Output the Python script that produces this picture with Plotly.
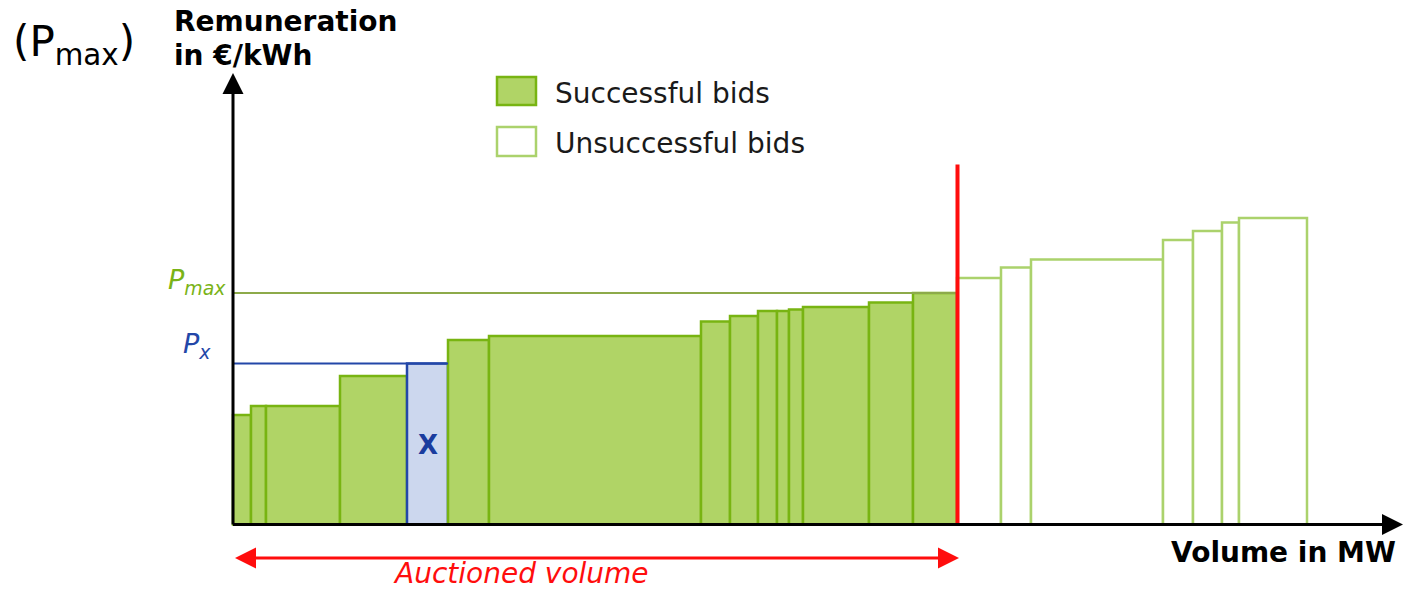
import numpy as np
import plotly.graph_objects as go

# ---------------- data ----------------
succ_volumes = [1.8, 1.5, 7.4, 6.7, 4.1, 4.1, 21.2, 2.9, 2.8, 1.9, 1.2, 1.4, 6.6, 4.4, 4.4]
succ_prices = [10.95, 11.85, 11.85, 14.85, 16.1, 18.45, 18.85, 20.3, 20.85, 21.35, 21.35, 21.5, 21.75, 22.2, 23.15]
unsucc_volumes = [4.4, 3.0, 13.2, 3.0, 2.9, 1.7, 6.8]
unsucc_prices = [24.65, 25.7, 26.5, 28.45, 29.35, 30.2, 30.65]
x_bid_index = 4          # the highlighted bid "X"
cutoff_top = 36.0        # height of the red cut-off line
legend_labels = ["Successful bids", "Unsuccessful bids"]

# ---------------- derived ----------------
sv = np.array(succ_volumes)
s_right = np.cumsum(sv)
s_centers = s_right - sv / 2
auctioned = float(s_right[-1])
uv = np.array(unsucc_volumes)
u_right = auctioned + np.cumsum(uv)
u_centers = u_right - uv / 2
p_max = succ_prices[-1]
p_x = succ_prices[x_bid_index]
x_right = float(s_right[x_bid_index])

FONT = "DejaVu Sans"
FILL = "#B0D466"
EDGE = "#78B412"
UEDGE = "#ABD26C"
BLUE_FILL = "#CCD7EE"
BLUE = "#2347A8"
RED = "#FF0D0D"

fill_colors = [FILL] * len(sv)
edge_colors = [EDGE] * len(sv)
fill_colors[x_bid_index] = BLUE_FILL
edge_colors[x_bid_index] = BLUE

fig = go.Figure()
fig.add_trace(go.Bar(x=s_centers, y=succ_prices, width=sv,
                     marker=dict(color=fill_colors, line=dict(color=edge_colors, width=2.5)),
                     showlegend=False, hoverinfo="skip"))
fig.add_trace(go.Bar(x=u_centers, y=unsucc_prices, width=uv,
                     marker=dict(color="white", line=dict(color=UEDGE, width=2.5)),
                     showlegend=False, hoverinfo="skip"))

shapes = [
    # Pmax line
    dict(type="line", x0=0, x1=auctioned, y0=p_max, y1=p_max, line=dict(color="#8DAA4A", width=2)),
    # Px line
    dict(type="line", x0=0, x1=x_right, y0=p_x, y1=p_x, line=dict(color=BLUE, width=2)),
    # cut-off line
    dict(type="line", x0=auctioned + 0.05, x1=auctioned + 0.05, y0=0, y1=cutoff_top, line=dict(color=RED, width=4)),
    # legend swatches
    dict(type="rect", x0=26.4, x1=30.3, y0=41.95, y1=44.75, fillcolor=FILL, line=dict(color=EDGE, width=2.5)),
    dict(type="rect", x0=26.4, x1=30.3, y0=36.85, y1=39.75, fillcolor="white", line=dict(color=UEDGE, width=2.5)),
]

ann = []
# axes arrows
ann.append(dict(x=117.0, y=0, ax=-0.15, ay=0, xref="x", yref="y", axref="x", ayref="y",
                showarrow=True, arrowhead=2, arrowsize=1.4, arrowwidth=3, arrowcolor="black", text=""))
ann.append(dict(x=0, y=45.15, ax=0, ay=-0.15, xref="x", yref="y", axref="x", ayref="y",
                showarrow=True, arrowhead=2, arrowsize=1.4, arrowwidth=3, arrowcolor="black", text=""))
# auctioned volume arrow
ann.append(dict(x=auctioned + 0.2, y=-3.35, ax=0.05, ay=-3.35, xref="x", yref="y", axref="x", ayref="y",
                showarrow=True, arrowhead=2, startarrowhead=2, arrowside="end+start",
                arrowsize=1.4, startarrowsize=1.4, arrowwidth=3, arrowcolor=RED, text=""))
ann.append(dict(x=28.75, y=-4.85, text="<i>Auctioned volume</i>", showarrow=False, borderpad=0,
                font=dict(family=FONT, size=28, color=RED), xanchor="center", yanchor="middle"))
ann.append(dict(x=116.5, y=-2.75, text="<b>Volume in MW</b>", showarrow=False,
                font=dict(family=FONT, size=28, color="black"), xanchor="right", yanchor="middle"))
ann.append(dict(x=-6.1, y=50.35, text="<b>Remuneration</b>", showarrow=False,
                font=dict(family=FONT, size=28, color="black"), xanchor="left", yanchor="middle"))
ann.append(dict(x=-6.1, y=46.95, text="<b>in €/kWh</b>", showarrow=False,
                font=dict(family=FONT, size=28, color="black"), xanchor="left", yanchor="middle"))
ann.append(dict(x=-22.2, y=48.0, text="(P<sub>max</sub>)", showarrow=False,
                font=dict(family=FONT, size=42, color="black"), xanchor="left", yanchor="middle"))
ann.append(dict(x=-0.5, y=24.3, text="<i>P<sub>max</sub></i>", showarrow=False,
                font=dict(family=FONT, size=27, color="#7AB317"), xanchor="right", yanchor="middle"))
ann.append(dict(x=-2.0, y=17.9, text="<i>P<sub>x</sub></i>", showarrow=False,
                font=dict(family=FONT, size=27, color=BLUE), xanchor="right", yanchor="middle"))
ann.append(dict(x=float(s_centers[x_bid_index]), y=7.95, text="<b>X</b>", showarrow=False,
                font=dict(family=FONT, size=26, color="#1A3C9E"), xanchor="center", yanchor="middle"))
ann.append(dict(x=32.0, y=43.15, text=legend_labels[0], showarrow=False,
                font=dict(family=FONT, size=28, color="#1a1a1a"), xanchor="left", yanchor="middle"))
ann.append(dict(x=32.0, y=38.15, text=legend_labels[1], showarrow=False,
                font=dict(family=FONT, size=28, color="#1a1a1a"), xanchor="left", yanchor="middle"))

fig.update_layout(
    width=1404, height=589,
    margin=dict(l=0, r=0, t=0, b=0),
    plot_bgcolor="white", paper_bgcolor="white",
    xaxis=dict(range=[-23.3, 117.1], visible=False, fixedrange=True),
    yaxis=dict(range=[-6.45, 52.45], visible=False, fixedrange=True),
    shapes=shapes, annotations=ann,
    barmode="overlay", showlegend=False,
)

fig.write_html("out.html", config=dict(displayModeBar=False),
               post_script="document.body.style.margin='0';document.body.style.overflow='hidden';")
